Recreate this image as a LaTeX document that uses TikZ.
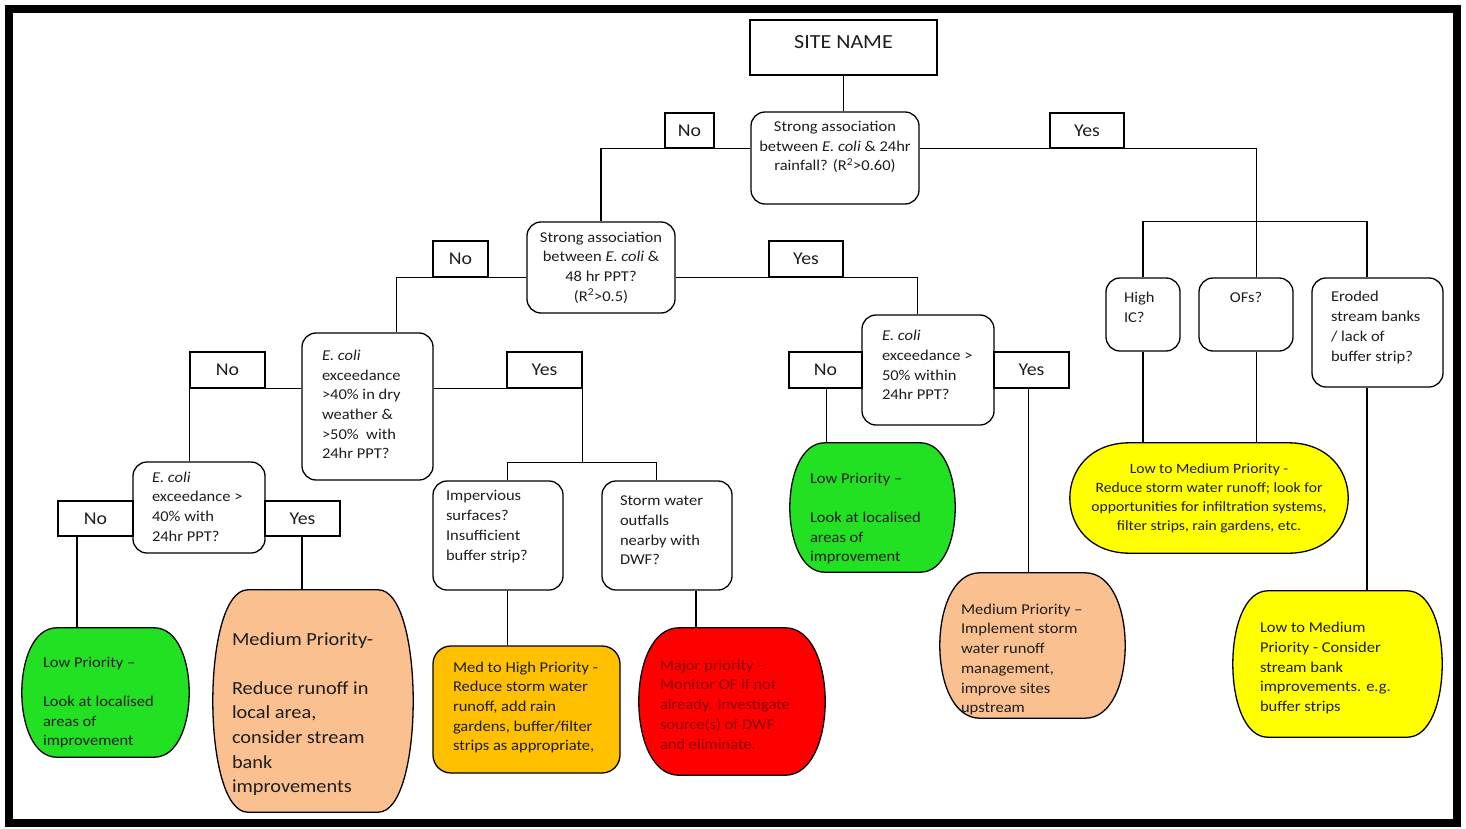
\documentclass[tikz,border=0pt]{standalone}
\usepackage{fontspec}
\setmainfont{Carlito}[FakeStretch=1.1]
\usetikzlibrary{calc,backgrounds}
\definecolor{lgreen}{HTML}{22E022}
\definecolor{peach}{HTML}{FAC08F}
\definecolor{gold}{HTML}{FFC000}
\definecolor{bred}{HTML}{FF0000}
\definecolor{byellow}{HTML}{FFFF00}
\definecolor{dred}{HTML}{8A0000}
\definecolor{ink}{HTML}{1E1E1E}
\newcommand\tbl[5]{\parbox[c][#2pt][c]{#1pt}{\vspace*{#4pt}\raggedright\leftskip=#3pt\rightskip=-300pt plus 1fil\relax #5\par}}
\newcommand\tbc[4]{\parbox[c][#2pt][c]{#1pt}{\vspace*{#3pt}\centering #4\par}}
\newcommand\barrel[3]{\path[draw=black,line width=1.3pt,fill=#3]
 ($(#1.north west)+(#2,0)$) -- ($(#1.north east)+(-#2,0)$)
 .. controls ($(#1.north east)+(#2/3,0)$) and ($(#1.south east)+(#2/3,0)$) .. ($(#1.south east)+(-#2,0)$)
 -- ($(#1.south west)+(#2,0)$)
 .. controls ($(#1.south west)+(-#2/3,0)$) and ($(#1.north west)+(-#2/3,0)$) .. cycle;}
\tikzset{
 box/.style={draw, line width=1.3pt, rounded corners=14pt, fill=white, inner sep=0pt, text=ink},
 lab/.style={draw, line width=1.3pt, fill=white, inner sep=0pt, font=\fontsize{18}{21}\selectfont, text=ink},
 term/.style={inner sep=0pt, text=ink},
 conn/.style={line width=1.3pt},
}
\begin{document}
\begin{tikzpicture}[x=1pt,y=-1pt,font=\fontsize{15}{19.7}\selectfont]
\useasboundingbox (0,0) rectangle (1466,829);
\draw[line width=8pt] (9,9) rectangle (1457,823);

\node[draw, line width=1.3pt, inner sep=0pt, font=\fontsize{20}{24}\selectfont, text=ink] (site) at (843.5,47.5) {\tbc{187}{55}{-10}{SITE NAME}};
\node[box] (q1) at (835,158) {\tbc{168}{92}{-22}{Strong association\\between \textit{E. coli} \& 24hr\\rainfall? (R\textsuperscript{2}>0.60)}};
\node[lab, minimum width=49pt, minimum height=35pt] (no1) at (689.5,130.5) {No};
\node[lab, minimum width=74pt, minimum height=35pt] (yes1) at (1087,130.5) {Yes};

\node[box] (q2) at (601,267.5) {\tbc{148}{91}{0}{Strong association\\between \textit{E. coli} \&\\48 hr PPT?\\(R\textsuperscript{2}>0.5)}};
\node[lab, minimum width=55pt, minimum height=36pt] (no2) at (460.5,259) {No};
\node[lab, minimum width=74pt, minimum height=36pt] (yes2) at (806,259) {Yes};

\node[box] (q3) at (367.5,406.5) {\tbl{131}{147}{20}{-4}{\textit{E. coli}\\exceedance\\>40\% in dry\\weather \&\\>50\%~ with\\24hr PPT?}};
\node[lab, minimum width=75pt, minimum height=36pt] (no3) at (227.5,370) {No};
\node[lab, minimum width=75pt, minimum height=36pt] (yes3) at (544.5,370) {Yes};

\node[box] (q4) at (199,507.5) {\tbl{132}{91}{19}{-2}{\textit{E. coli}\\exceedance >\\40\% with\\24hr PPT?}};
\node[lab, minimum width=75pt, minimum height=35pt] (no4) at (95.5,518.5) {No};
\node[lab, minimum width=75pt, minimum height=35pt] (yes4) at (302.5,518.5) {Yes};

\node[term] (g1) at (105.5,692.5) {\tbl{167}{129}{21}{20}{Low Priority –\\[\baselineskip]Look at localised\\areas of\\improvement}};
\node[term, font=\fontsize{18.5}{24.6}\selectfont] (o1) at (313,701) {\tbl{200}{222}{19}{26}{Medium Priority-\\[\baselineskip]Reduce runoff in\\local area,\\consider stream\\bank\\improvements}};

\node[box] (imp) at (498,535.5) {\tbl{130}{109}{13}{-18}{Impervious\\surfaces?\\Insufficient\\buffer strip?}};
\node[box] (storm) at (667,535.5) {\tbl{130}{109}{18}{-10}{Storm water\\outfalls\\nearby with\\DWF?}};
\node[box, rounded corners=18pt, fill=gold] (mh) at (526.5,709.5) {\tbl{187}{127}{20}{-4}{Med to High Priority -\\Reduce storm water\\runoff, add rain\\gardens, buffer/filter\\strips as appropriate,}};
\node[term, text=dred] (red) at (732,701.5) {\tbl{186}{147}{21}{6}{Major priority –\\Monitor OF if not\\already. Investigate\\source(s) of DWF\\and eliminate.}};

\node[box] (q6) at (928,370) {\tbl{132}{110}{20}{-10}{\textit{E. coli}\\exceedance >\\50\% within\\24hr PPT?}};
\node[lab, minimum width=73pt, minimum height=36pt] (no6) at (825.5,370) {No};
\node[lab, minimum width=75pt, minimum height=36pt] (yes6) at (1031.5,370) {Yes};
\node[term] (g2) at (872.5,507.5) {\tbl{165}{129}{20}{22}{Low Priority –\\[\baselineskip]Look at localised\\areas of\\improvement}};
\node[term] (o2) at (1032.5,645.5) {\tbl{185}{145}{21}{28}{Medium Priority –\\Implement storm\\water runoff\\management,\\improve sites\\upstream}};

\node[box] (hic) at (1143,314.5) {\tbl{74}{73}{18}{-14}{High\\IC?}};
\node[box] (ofs) at (1246,314.5) {\tbc{94}{73}{-34}{OFs?}};
\node[box] (ero) at (1377.5,332.5) {\tbl{131}{109}{19}{-10}{Eroded\\stream banks\\/ lack of\\buffer strip?}};
\node[term, font=\fontsize{14.2}{19}\selectfont] (y1) at (1209,498) {\tbc{278}{110}{0}{Low to Medium Priority -\\Reduce storm water runoff; look for\\opportunities for infiltration systems,\\filter strips, rain gardens, etc.}};
\node[term] (y2) at (1337.5,664) {\tbl{209}{146}{27}{8}{Low to Medium\\Priority - Consider\\stream bank\\improvements. e.g.\\buffer strips}};

\begin{pgfonlayer}{background}
\fill[white] (0,0) rectangle (1466,829);
\barrel{g1}{35}{lgreen}
\barrel{o1}{35}{peach}
\barrel{red}{40}{bred}
\barrel{g2}{35}{lgreen}
\barrel{o2}{40}{peach}
\barrel{y1}{60}{byellow}
\barrel{y2}{35}{byellow}
\end{pgfonlayer}

\draw[conn] (site.south) -- (site.south |- q1.north);
\draw[conn] (q1.west |- no1.south) -| (q2.north);
\coordinate (ofsT) at ($(ofs.north west)!0.61!(ofs.north east)$);
\coordinate (eroT) at ($(ero.north west)!0.42!(ero.north east)$);
\coordinate (j1) at ($(ofsT)+(0,-56)$);
\draw[conn] (q1.east |- yes1.south) -| (ofsT);
\draw[conn] (hic.north) |- (j1) -| (eroT);
\draw[conn] (q2.west |- no2.south) -| ($(q3.north west)!0.718!(q3.north east)$);
\draw[conn] (q2.east |- yes2.south) -| ($(q6.north west)!0.42!(q6.north east)$);
\draw[conn] (q3.west |- no3.south) -| ($(q4.north west)!0.43!(q4.north east)$);
\coordinate (j3) at ($(yes3.south east)+(0,74)$);
\draw[conn] (q3.east |- yes3.south) -| (j3);
\coordinate (impT) at ($(imp.north west)!0.57!(imp.north east)$);
\coordinate (stT) at ($(storm.north west)!0.42!(storm.north east)$);
\draw[conn] (impT) |- (j3) -| (stT);
\draw[conn] (q4.west |- no4.south) -| ($(g1.north west)!0.33!(g1.north east)$);
\draw[conn] (q4.east |- yes4.south) -| ($(o1.north west)!0.445!(o1.north east)$);
\draw[conn] (impT |- imp.south) -- (impT |- mh.north);
\coordinate (stB) at ($(storm.south west)!0.72!(storm.south east)$);
\draw[conn] (stB) -- (stB |- red.north);
\draw[conn] (q6.west |- no6.south) -| ($(g2.north west)!0.22!(g2.north east)$);
\draw[conn] (q6.east |- yes6.south) -| ($(o2.north west)!0.48!(o2.north east)$);
\draw[conn] (hic.south) -- (hic.south |- y1.north);
\draw[conn] (ofsT |- ofs.south) -- (ofsT |- y1.north);
\draw[conn] (eroT |- ero.south) -- (eroT |- y2.north);
\end{tikzpicture}
\end{document}
